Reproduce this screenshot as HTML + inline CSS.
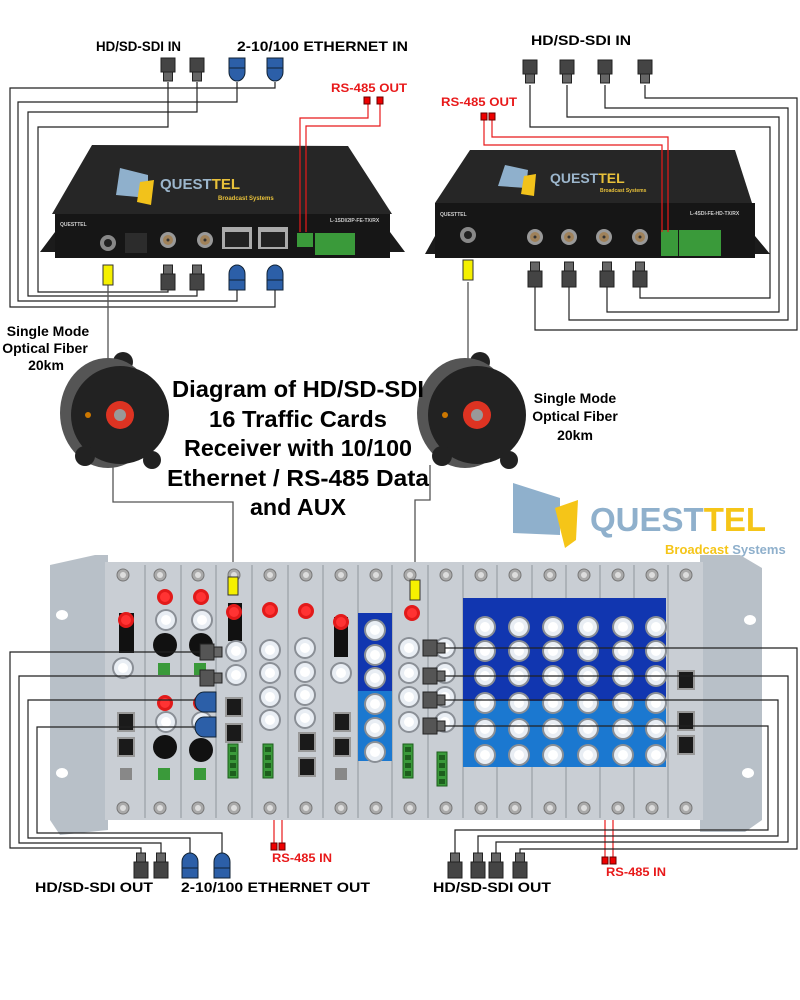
<!DOCTYPE html>
<html><head><meta charset="utf-8"><style>
html,body{margin:0;padding:0;background:#fff}
svg{display:block}
text{font-family:"Liberation Sans",Arial,sans-serif;font-weight:bold}
</style></head><body>
<svg width="800" height="1000" viewBox="0 0 800 1000" xmlns="http://www.w3.org/2000/svg">
<defs>
<g id="sdiD"><rect x="-7" y="0" width="14" height="14" fill="#444" stroke="#222"/><rect x="-4.5" y="14" width="9" height="9" fill="#666" stroke="#222"/></g>
<g id="sdiU"><rect x="-4.5" y="0" width="9" height="9" fill="#666" stroke="#222"/><rect x="-7" y="9" width="14" height="16" fill="#444" stroke="#222"/></g>
<g id="ethD"><path d="M-8 0 H8 V14 A8 9 0 0 1 -8 14 Z" fill="#2c5fa8" stroke="#123"/><line x1="-8" y1="10" x2="8" y2="10" stroke="#123"/></g>
<g id="ethU"><path d="M-8 25 H8 V9 A8 9 0 0 0 -8 9 Z" fill="#2c5fa8" stroke="#123"/><line x1="-8" y1="15" x2="8" y2="15" stroke="#123"/></g>
<g id="bnc"><circle r="11" fill="#8a8f96"/><circle r="9" fill="#e9eef4"/><circle r="5" fill="#fff"/></g>
<g id="bncB"><circle r="8" fill="#999"/><circle r="5" fill="#a0825a"/><circle r="1.5" fill="#333"/></g>
<g id="red"><circle r="8" fill="#e21a1a"/><circle r="5" fill="#f33"/></g>
<g id="rj"><rect x="-9" y="-10" width="18" height="20" fill="#999"/><rect x="-7" y="-8" width="14" height="16" fill="#1a1a1a"/></g>
<g id="scr"><circle r="6" fill="#aaa" stroke="#777"/><circle r="3" fill="#ddd"/></g>
<g id="plugR"><rect x="0" y="-8" width="14" height="16" fill="#555" stroke="#222"/><rect x="14" y="-5" width="8" height="10" fill="#666" stroke="#222"/></g>
<g id="grn"><rect x="0" y="0" width="10" height="34" fill="#3a9a3a" stroke="#1d5e1d"/><rect x="2" y="3" width="6" height="5" fill="#1d5e1d"/><rect x="2" y="11" width="6" height="5" fill="#1d5e1d"/><rect x="2" y="19" width="6" height="5" fill="#1d5e1d"/><rect x="2" y="27" width="6" height="5" fill="#1d5e1d"/></g>
</defs>

<!-- top labels -->
<text x="96" y="51" font-size="14" textLength="85" lengthAdjust="spacingAndGlyphs">HD/SD-SDI IN</text>
<text x="237" y="51" font-size="14" textLength="171" lengthAdjust="spacingAndGlyphs">2-10/100 ETHERNET IN</text>
<text x="531" y="45" font-size="14" textLength="100" lengthAdjust="spacingAndGlyphs">HD/SD-SDI IN</text>
<text x="331" y="92" font-size="12" fill="#e8191a" textLength="76" lengthAdjust="spacingAndGlyphs">RS-485 OUT</text>
<text x="441" y="106" font-size="12" fill="#e8191a" textLength="76" lengthAdjust="spacingAndGlyphs">RS-485 OUT</text>

<!-- left device loops -->
<g fill="none" stroke="#222" stroke-width="1.2">
<path d="M275 82 V88 H10 V307 H275 V290"/>
<path d="M237 82 V102 H18 V301 H237 V290"/>
<path d="M197 82 V112 H28 V296 H197 V290"/>
<path d="M168 82 V127 H38 V292 H168 V290"/>
</g>
<g fill="none" stroke="#222" stroke-width="1.2">
<path d="M645 85 V98 H797 V330 H535 V285"/>
<path d="M605 85 V108 H788 V320 H569 V285"/>
<path d="M567 85 V117 H779 V312 H607 V285"/>
<path d="M530 85 V127 H770 V298 H640 V285"/>
</g>
<use href="#sdiD" x="168" y="58"/><use href="#sdiD" x="197" y="58"/>
<use href="#ethD" x="237" y="58"/><use href="#ethD" x="275" y="58"/>
<use href="#sdiD" x="530" y="60"/><use href="#sdiD" x="567" y="60"/><use href="#sdiD" x="605" y="60"/><use href="#sdiD" x="645" y="60"/>

<!-- left device -->
<polygon points="92,145 348,146 392,214 52,214" fill="#262626"/>
<path d="M40 252 L55 232 V214 H390 V232 L405 252 Z" fill="#1b1b1b"/>
<rect x="55" y="214" width="335" height="44" fill="#161616"/>
<polygon points="120,168 148,175 148,198 116,195" fill="#8fb0cc"/>
<polygon points="140,182 154,180 151,205 137,202" fill="#f2c21b"/>
<text x="160" y="189" font-size="15" fill="#9cb6cc">QUEST<tspan fill="#e8c13a">TEL</tspan></text>
<text x="218" y="200" font-size="6" fill="#e8c13a">Broadcast Systems</text>
<text x="60" y="226" font-size="5" fill="#ccc">QUESTTEL</text>
<text x="330" y="222" font-size="5" fill="#ccc">L-1SDI/2IP-FE-TX/RX</text>
<circle cx="108" cy="243" r="8" fill="#888"/><circle cx="108" cy="243" r="4" fill="#222"/>
<rect x="125" y="233" width="22" height="20" fill="#2c2c2c"/>
<use href="#bncB" x="168" y="240"/><use href="#bncB" x="205" y="240"/>
<rect x="222" y="227" width="30" height="22" fill="#aaa"/><rect x="225" y="232" width="24" height="15" fill="#222"/>
<rect x="258" y="227" width="30" height="22" fill="#aaa"/><rect x="261" y="232" width="24" height="15" fill="#222"/>
<rect x="297" y="233" width="16" height="14" fill="#3a9a3a"/>
<rect x="315" y="233" width="40" height="22" fill="#3a9a3a"/>
<!-- right device -->
<polygon points="470,150 735,150 752,203 435,203" fill="#262626"/>
<path d="M425 254 L435 236 V203 H755 V236 L770 254 Z" fill="#1b1b1b"/>
<rect x="435" y="203" width="320" height="55" fill="#161616"/>
<polygon points="505,165 528,170 526,188 498,186" fill="#8fb0cc"/>
<polygon points="524,176 536,174 534,196 521,194" fill="#f2c21b"/>
<text x="550" y="183" font-size="14" fill="#9cb6cc">QUEST<tspan fill="#e8c13a">TEL</tspan></text>
<text x="600" y="192" font-size="5" fill="#e8c13a">Broadcast Systems</text>
<text x="440" y="216" font-size="5" fill="#ccc">QUESTTEL</text>
<text x="690" y="215" font-size="5" fill="#ccc">L-4SDI-FE-HD-TX/RX</text>
<circle cx="468" cy="235" r="8" fill="#888"/><circle cx="468" cy="235" r="4" fill="#222"/>
<use href="#bncB" x="535" y="237"/><use href="#bncB" x="569" y="237"/><use href="#bncB" x="604" y="237"/><use href="#bncB" x="640" y="237"/>
<rect x="661" y="230" width="17" height="26" fill="#3a9a3a"/><rect x="679" y="230" width="42" height="26" fill="#3a9a3a"/>
<use href="#sdiU" x="168" y="265"/><use href="#sdiU" x="197" y="265"/>
<use href="#ethU" x="237" y="265"/><use href="#ethU" x="275" y="265"/>
<use href="#sdiU" x="535" y="262"/><use href="#sdiU" x="569" y="262"/><use href="#sdiU" x="607" y="262"/><use href="#sdiU" x="640" y="262"/>
<g fill="none" stroke="#e8191a" stroke-width="1.2">
<path d="M368 103 V118 H300 V232"/><path d="M380 103 V126 H306 V232"/>
<path d="M484 119 V145 H662 V232"/><path d="M492 119 V137 H668 V232"/>
<path d="M274 843 V747 H238"/><path d="M282 843 V741 H238"/>
<path d="M605 857 V741 H414"/><path d="M613 857 V735 H414"/>
</g>
<rect x="364" y="97" width="6" height="7" fill="#e00" stroke="#600"/><rect x="377" y="97" width="6" height="7" fill="#e00" stroke="#600"/>
<rect x="481" y="113" width="6" height="7" fill="#e00" stroke="#600"/><rect x="489" y="113" width="6" height="7" fill="#e00" stroke="#600"/>
<rect x="271" y="843" width="6" height="7" fill="#e00" stroke="#600"/><rect x="279" y="843" width="6" height="7" fill="#e00" stroke="#600"/>
<rect x="602" y="857" width="6" height="7" fill="#e00" stroke="#600"/><rect x="610" y="857" width="6" height="7" fill="#e00" stroke="#600"/>

<g fill="none" stroke="#555" stroke-width="1.3">
<path d="M108 285 V360"/><path d="M468 282 V360"/>
<path d="M113 465 V502 H233 V577"/><path d="M430 465 V500 H415 V582"/>
</g>
<rect x="103" y="265" width="10" height="20" fill="#f5f000" stroke="#333"/>
<rect x="463" y="260" width="10" height="20" fill="#f5f000" stroke="#333"/>

<g>
<circle cx="123" cy="362" r="10" fill="#222"/>
<ellipse cx="108" cy="413" rx="48" ry="55" fill="#555"/>
<circle cx="120" cy="415" r="49" fill="#222"/>
<circle cx="85" cy="456" r="10" fill="#222"/><circle cx="152" cy="460" r="9" fill="#222"/>
<circle cx="120" cy="415" r="14" fill="#d32"/><circle cx="120" cy="415" r="6" fill="#999"/>
<circle cx="88" cy="415" r="3" fill="#c70"/>
</g>
<g>
<circle cx="480" cy="362" r="10" fill="#222"/>
<ellipse cx="465" cy="413" rx="48" ry="55" fill="#555"/>
<circle cx="477" cy="415" r="49" fill="#222"/>
<circle cx="442" cy="456" r="10" fill="#222"/><circle cx="509" cy="460" r="9" fill="#222"/>
<circle cx="477" cy="415" r="14" fill="#d32"/><circle cx="477" cy="415" r="6" fill="#999"/>
<circle cx="445" cy="415" r="3" fill="#c70"/>
</g>
<text font-size="14" text-anchor="middle"><tspan x="48" y="336">Single Mode</tspan><tspan x="45" y="353">Optical Fiber</tspan><tspan x="46" y="370">20km</tspan></text>
<text font-size="14" text-anchor="middle"><tspan x="575" y="403">Single Mode</tspan><tspan x="575" y="421">Optical Fiber</tspan><tspan x="575" y="440">20km</tspan></text>
<g font-size="23" text-anchor="middle">
<text x="298" y="397" textLength="252" lengthAdjust="spacingAndGlyphs">Diagram of HD/SD-SDI</text>
<text x="298" y="427" textLength="178" lengthAdjust="spacingAndGlyphs">16 Traffic Cards</text>
<text x="298" y="456" textLength="228" lengthAdjust="spacingAndGlyphs">Receiver with 10/100</text>
<text x="298" y="486" textLength="262" lengthAdjust="spacingAndGlyphs">Ethernet / RS-485  Data</text>
<text x="298" y="515" textLength="96" lengthAdjust="spacingAndGlyphs">and AUX</text>
</g>
<polygon points="513,483 560,498 560,535 513,533" fill="#8fb0cc"/>
<polygon points="555,508 578,500 576,540 565,548" fill="#f5c518"/>
<text x="590" y="531" font-size="33" fill="#8fb0cc">QUEST<tspan fill="#f5c518">TEL</tspan></text>
<text x="665" y="554" font-size="13" fill="#f5c518">Broadcast <tspan fill="#8fb0cc">Systems</tspan></text>

<!-- rack -->
<path d="M50 565 L95 555 H108 V830 L60 835 L50 820 Z" fill="#b8c0c8"/>
<path d="M700 555 H740 L762 568 V820 L745 832 H700 Z" fill="#b8c0c8"/>
<ellipse cx="62" cy="615" rx="6" ry="5" fill="#fff"/><ellipse cx="62" cy="773" rx="6" ry="5" fill="#fff"/>
<ellipse cx="750" cy="620" rx="6" ry="5" fill="#fff"/><ellipse cx="748" cy="773" rx="6" ry="5" fill="#fff"/>
<rect x="105" y="562" width="598" height="258" fill="#c9ced4"/>
<g stroke="#8e959c" stroke-width="1">
<line x1="145" y1="565" x2="145" y2="818"/><line x1="181" y1="565" x2="181" y2="818"/><line x1="216" y1="565" x2="216" y2="818"/><line x1="252" y1="565" x2="252" y2="818"/><line x1="288" y1="565" x2="288" y2="818"/><line x1="323" y1="565" x2="323" y2="818"/><line x1="358" y1="565" x2="358" y2="818"/><line x1="392" y1="565" x2="392" y2="818"/><line x1="428" y1="565" x2="428" y2="818"/><line x1="463" y1="565" x2="463" y2="818"/><line x1="497" y1="565" x2="497" y2="818"/><line x1="532" y1="565" x2="532" y2="818"/><line x1="566" y1="565" x2="566" y2="818"/><line x1="600" y1="565" x2="600" y2="818"/><line x1="634" y1="565" x2="634" y2="818"/><line x1="668" y1="565" x2="668" y2="818"/>
</g>
<g>
<use href="#scr" x="123" y="575"/><use href="#scr" x="160" y="575"/><use href="#scr" x="198" y="575"/><use href="#scr" x="234" y="575"/><use href="#scr" x="270" y="575"/><use href="#scr" x="306" y="575"/><use href="#scr" x="341" y="575"/><use href="#scr" x="376" y="575"/><use href="#scr" x="410" y="575"/><use href="#scr" x="446" y="575"/><use href="#scr" x="481" y="575"/><use href="#scr" x="515" y="575"/><use href="#scr" x="550" y="575"/><use href="#scr" x="584" y="575"/><use href="#scr" x="618" y="575"/><use href="#scr" x="652" y="575"/><use href="#scr" x="686" y="575"/>
<use href="#scr" x="123" y="808"/><use href="#scr" x="160" y="808"/><use href="#scr" x="198" y="808"/><use href="#scr" x="234" y="808"/><use href="#scr" x="270" y="808"/><use href="#scr" x="306" y="808"/><use href="#scr" x="341" y="808"/><use href="#scr" x="376" y="808"/><use href="#scr" x="410" y="808"/><use href="#scr" x="446" y="808"/><use href="#scr" x="481" y="808"/><use href="#scr" x="515" y="808"/><use href="#scr" x="550" y="808"/><use href="#scr" x="584" y="808"/><use href="#scr" x="618" y="808"/><use href="#scr" x="652" y="808"/><use href="#scr" x="686" y="808"/>
</g>
<rect x="119" y="613" width="15" height="40" fill="#111"/><use href="#red" x="126" y="620"/>
<use href="#bnc" x="123" y="668"/><use href="#rj" x="126" y="722"/><use href="#rj" x="126" y="747"/>
<rect x="120" y="768" width="12" height="12" fill="#888"/>
<use href="#red" x="165" y="597"/><use href="#bnc" x="166" y="620"/><circle cx="165" cy="645" r="12" fill="#111"/><rect x="158" y="663" width="12" height="12" fill="#3a9a3a"/>
<use href="#red" x="165" y="703"/><use href="#bnc" x="166" y="722"/><circle cx="165" cy="747" r="12" fill="#111"/><rect x="158" y="768" width="12" height="12" fill="#3a9a3a"/>
<use href="#red" x="201" y="597"/><use href="#bnc" x="202" y="620"/><circle cx="201" cy="645" r="12" fill="#111"/><rect x="194" y="663" width="12" height="12" fill="#3a9a3a"/>
<use href="#red" x="201" y="703"/><use href="#bnc" x="202" y="722"/><circle cx="201" cy="750" r="12" fill="#111"/><rect x="194" y="768" width="12" height="12" fill="#3a9a3a"/>
<rect x="228" y="603" width="14" height="38" fill="#111"/><use href="#red" x="234" y="612"/>
<use href="#bnc" x="236" y="651"/><use href="#bnc" x="236" y="675"/><use href="#rj" x="234" y="707"/><use href="#rj" x="234" y="733"/>
<use href="#grn" x="228" y="744"/>
<rect x="228" y="577" width="10" height="18" fill="#f5f000" stroke="#333"/>
<use href="#red" x="270" y="610"/><use href="#bnc" x="270" y="650"/><use href="#bnc" x="270" y="673"/><use href="#bnc" x="270" y="697"/><use href="#bnc" x="270" y="720"/><use href="#grn" x="263" y="744"/>
<use href="#red" x="306" y="611"/><use href="#bnc" x="305" y="648"/><use href="#bnc" x="305" y="672"/><use href="#bnc" x="305" y="695"/><use href="#bnc" x="305" y="718"/><use href="#rj" x="307" y="742"/><use href="#rj" x="307" y="767"/>
<rect x="334" y="617" width="14" height="40" fill="#111"/><use href="#red" x="341" y="622"/><use href="#bnc" x="341" y="673"/><use href="#rj" x="342" y="722"/><use href="#rj" x="342" y="747"/><rect x="335" y="768" width="12" height="12" fill="#888"/>
<rect x="358" y="613" width="34" height="78" fill="#1136b0"/><rect x="358" y="691" width="34" height="70" fill="#1b78d0"/>
<use href="#bnc" x="375" y="630"/><use href="#bnc" x="375" y="655"/><use href="#bnc" x="375" y="678"/><use href="#bnc" x="375" y="704"/><use href="#bnc" x="375" y="728"/><use href="#bnc" x="375" y="752"/>
<use href="#red" x="412" y="613"/>
<use href="#bnc" x="409" y="648"/><use href="#bnc" x="409" y="673"/><use href="#bnc" x="409" y="697"/><use href="#bnc" x="409" y="722"/>
<use href="#bnc" x="445" y="648"/><use href="#bnc" x="445" y="673"/><use href="#bnc" x="445" y="697"/><use href="#bnc" x="445" y="722"/>
<use href="#grn" x="403" y="744"/><use href="#grn" x="437" y="752"/>
<rect x="410" y="580" width="10" height="20" fill="#f5f000" stroke="#333"/>
<rect x="463" y="598" width="203" height="103" fill="#1136b0"/><rect x="463" y="701" width="203" height="66" fill="#1b78d0"/>
<g>
<use href="#bnc" x="485" y="627"/><use href="#bnc" x="519" y="627"/><use href="#bnc" x="553" y="627"/><use href="#bnc" x="588" y="627"/><use href="#bnc" x="623" y="627"/><use href="#bnc" x="656" y="627"/>
<use href="#bnc" x="485" y="651"/><use href="#bnc" x="519" y="651"/><use href="#bnc" x="553" y="651"/><use href="#bnc" x="588" y="651"/><use href="#bnc" x="623" y="651"/><use href="#bnc" x="656" y="651"/>
<use href="#bnc" x="485" y="676"/><use href="#bnc" x="519" y="676"/><use href="#bnc" x="553" y="676"/><use href="#bnc" x="588" y="676"/><use href="#bnc" x="623" y="676"/><use href="#bnc" x="656" y="676"/>
<use href="#bnc" x="485" y="703"/><use href="#bnc" x="519" y="703"/><use href="#bnc" x="553" y="703"/><use href="#bnc" x="588" y="703"/><use href="#bnc" x="623" y="703"/><use href="#bnc" x="656" y="703"/>
<use href="#bnc" x="485" y="729"/><use href="#bnc" x="519" y="729"/><use href="#bnc" x="553" y="729"/><use href="#bnc" x="588" y="729"/><use href="#bnc" x="623" y="729"/><use href="#bnc" x="656" y="729"/>
<use href="#bnc" x="485" y="755"/><use href="#bnc" x="519" y="755"/><use href="#bnc" x="553" y="755"/><use href="#bnc" x="588" y="755"/><use href="#bnc" x="623" y="755"/><use href="#bnc" x="656" y="755"/>
</g>
<use href="#rj" x="686" y="680"/><use href="#rj" x="686" y="721"/><use href="#rj" x="686" y="745"/>

<g fill="none" stroke="#222" stroke-width="1.2">
<path d="M205 652 H10 V848 H141 V855"/>
<path d="M205 676 H19 V843 H161 V855"/>
<path d="M205 700 H28 V838 H190 V855"/>
<path d="M205 727 H37 V833 H222 V855"/>
<path d="M445 648 H797 V849 H520 V855"/>
<path d="M445 676 H788 V842 H496 V855"/>
<path d="M445 700 H778 V836 H478 V855"/>
<path d="M445 726 H768 V830 H455 V855"/>
</g>
<use href="#plugR" x="200" y="652"/><use href="#plugR" x="200" y="678"/>
<path d="M204 692 H216 V712 H204 A9 10 0 0 1 204 692 Z" fill="#2c5fa8" stroke="#123"/>
<path d="M204 717 H216 V737 H204 A9 10 0 0 1 204 717 Z" fill="#2c5fa8" stroke="#123"/>
<use href="#plugR" x="423" y="648"/><use href="#plugR" x="423" y="676"/><use href="#plugR" x="423" y="700"/><use href="#plugR" x="423" y="726"/>

<use href="#sdiU" x="141" y="853"/><use href="#sdiU" x="161" y="853"/>
<use href="#ethU" x="190" y="853"/><use href="#ethU" x="222" y="853"/>
<use href="#sdiU" x="455" y="853"/><use href="#sdiU" x="478" y="853"/><use href="#sdiU" x="496" y="853"/><use href="#sdiU" x="520" y="853"/>

<text x="35" y="892" font-size="14" textLength="118" lengthAdjust="spacingAndGlyphs">HD/SD-SDI OUT</text>
<text x="181" y="892" font-size="14" textLength="189" lengthAdjust="spacingAndGlyphs">2-10/100 ETHERNET OUT</text>
<text x="433" y="892" font-size="14" textLength="118" lengthAdjust="spacingAndGlyphs">HD/SD-SDI OUT</text>
<text x="272" y="862" font-size="12" fill="#e8191a" textLength="60" lengthAdjust="spacingAndGlyphs">RS-485 IN</text>
<text x="606" y="876" font-size="12" fill="#e8191a" textLength="60" lengthAdjust="spacingAndGlyphs">RS-485 IN</text>
</svg>
</body></html>
